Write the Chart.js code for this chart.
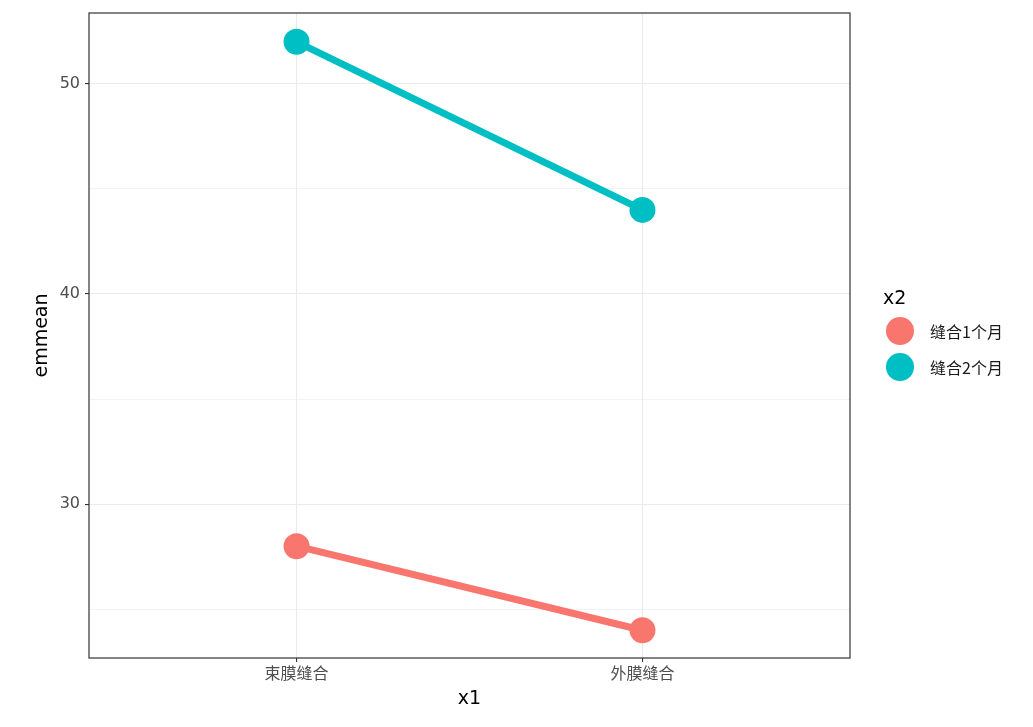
<!DOCTYPE html>
<html>
<head>
<meta charset="utf-8">
<script src="https://cdn.jsdelivr.net/npm/chart.js@4"></script>
<style>
  body{margin:0;background:#fff;font-family:"Noto Sans CJK SC","DejaVu Sans",sans-serif;}
  #wrap{position:relative;width:1033px;height:727px;}
  #legend{position:absolute;left:883px;top:286px;font-family:"Noto Sans CJK SC",sans-serif;}
  #legend .title{font-size:19px;color:#000;margin-bottom:5px;font-family:"DejaVu Sans",sans-serif;}
  #legend .item{display:flex;align-items:center;height:36px;font-size:16px;color:#1a1a1a;}
  #legend .dot{width:28px;height:28px;border-radius:50%;margin-left:3px;margin-right:16px;}
</style>
</head>
<body>
<div id="wrap">
  <canvas id="c" width="1033" height="727"></canvas>
  <div id="legend"></div>
</div>
<script>
const categories = ['束膜缝合', '外膜缝合'];
const seriesNames = ['缝合1个月', '缝合2个月'];
const month1 = [28, 24];
const month2 = [52, 44];
const colors = ['#F8766D', '#00BFC4'];
const yTicks = [30, 40, 50];

const toPoints = vals => vals.map((v, i) => ({x: i + 1, y: v}));

const panelBorder = {
    id: 'panelBorder',
    afterDraw(chart) {
        const a = chart.chartArea, ctx = chart.ctx;
        ctx.save();
        ctx.strokeStyle = '#333333';
        ctx.lineWidth = 1.2;
        ctx.strokeRect(a.left, a.top, a.right - a.left, a.bottom - a.top);
        ctx.restore();
    }
};

new Chart(document.getElementById('c'), {
    type: 'line',
    data: {
        datasets: [month1, month2].map((vals, i) => ({
            label: seriesNames[i],
            data: toPoints(vals),
            borderColor: colors[i],
            backgroundColor: colors[i],
            borderWidth: 7,
            pointRadius: 13,
            pointHoverRadius: 13,
            pointBorderWidth: 0
        }))
    },
    options: {
        responsive: false,
        animation: false,
        layout: {padding: {left: 0, right: 183, top: 12, bottom: 0}},
        plugins: {legend: {display: false}, tooltip: {enabled: false}},
        scales: {
            x: {
                type: 'linear',
                min: 0.4, max: 2.6,
                afterBuildTicks: s => { s.ticks = categories.map((c, i) => ({value: i + 1})); },
                afterFit: s => { s.height = 69; s.paddingLeft = 0; s.paddingRight = 0; },
                ticks: {
                    callback: v => categories[v - 1],
                    color: '#4d4d4d',
                    font: {size: 16, family: '"Noto Sans CJK SC"'},
                    padding: 1
                },
                grid: {color: '#ebebeb', lineWidth: 1.1, tickLength: 4, tickColor: '#333333'},
                border: {display: false},
                title: {display: true, text: 'x1', color: '#000', font: {size: 19, family: '"DejaVu Sans"'}, padding: {top: 4, bottom: 17}}
            },
            y: {
                min: 22.68, max: 53.37,
                afterBuildTicks: s => { s.ticks = [25, 30, 35, 40, 45, 50].map(v => ({value: v})); },
                afterFit: s => { s.width = 89; s.paddingTop = 0; s.paddingBottom = 0; },
                ticks: {
                    callback: v => yTicks.includes(v) ? String(v) : '',
                    color: '#4d4d4d',
                    font: {size: 16, family: '"DejaVu Sans"'},
                    padding: 5
                },
                grid: {
                    color: '#ebebeb',
                    lineWidth: c => yTicks.includes(c.tick.value) ? 1.1 : 0.6,
                    tickLength: 4,
                    tickColor: c => yTicks.includes(c.tick.value) ? '#333333' : 'rgba(0,0,0,0)'
                },
                border: {display: false},
                title: {display: true, text: 'emmean', color: '#000', font: {size: 19, family: '"DejaVu Sans"'}, padding: {top: 31, bottom: 0}}
            }
        }
    },
    plugins: [panelBorder]
});

const lg = document.getElementById('legend');
lg.innerHTML = '<div class="title">x2</div>' + seriesNames.map((n, i) =>
    `<div class="item"><span class="dot" style="background:${colors[i]}"></span>${n}</div>`).join('');
</script>
</body>
</html>
